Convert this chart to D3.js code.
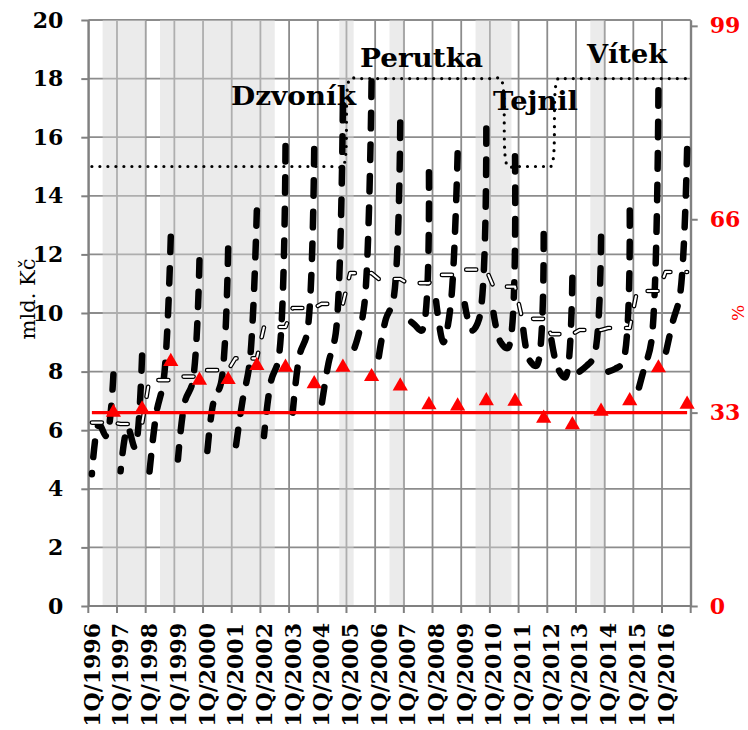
<!DOCTYPE html>
<html><head><meta charset="utf-8">
<script src="https://cdn.jsdelivr.net/npm/d3@7"></script>
<style>body{margin:0;background:#fff}svg{display:block}</style>
</head><body>
<svg id="c" width="748" height="730"></svg>
<script>
// ---------------- DATA ----------------
const years = [1996,1997,1998,1999,2000,2001,2002,2003,2004,2005,2006,2007,2008,2009,2010,2011,2012,2013,2014,2015,2016];
const quarterNames = ["1Q","2Q","3Q","4Q"];
const categories = years.flatMap(yr => quarterNames.map(q => q + "/" + yr));

// quarterly values, mld. Kč (left axis)
const quarterlyValues = [
  4.5, 6.2, 5.8, 7.9,
  4.6, 6.1, 5.4, 8.55,
  4.5, 6.6, 7.7, 12.6,
  5.0, 7.0, 7.6, 11.8,
  5.0, 7.0, 7.6, 12.2,
  5.3, 7.0, 8.3, 13.5,
  5.8, 7.7, 8.4, 15.7,
  6.6, 8.6, 9.3, 15.6,
  6.8, 8.3, 9.3, 17.1,
  8.4, 9.1, 10.3, 17.9,
  8.5, 9.8, 10.4, 16.5,
  9.8, 9.6, 9.4, 14.8,
  10.4, 9.0, 10.2, 15.45,
  10.3, 9.4, 9.8, 16.3,
  10.0, 9.0, 8.8, 15.35,
  9.8, 8.4, 8.2, 12.7,
  9.2, 8.1, 7.8, 11.2,
  8.0, 8.2, 8.5, 12.6,
  8.0, 8.1, 8.3, 13.5,
  7.2, 8.1, 9.0, 17.6,
  8.6, 9.7, 10.6, 15.6
];
// annual average per year, mld. Kč (left axis), shown for each quarter of the year
const annualAverage = [6.26,6.21,7.71,7.83,8.05,8.45,9.52,10.17,10.31,11.36,11.16,11.02,11.3,11.48,10.9,9.8,9.28,9.42,9.49,10.75,11.4];
// share of the 4th quarter in the year, % (right axis)
const q4Share = [33.4,34.0,42.1,38.9,39.0,41.4,41.1,38.3,41.1,39.5,37.9,34.7,34.5,35.4,35.3,32.4,31.3,33.6,35.4,41.0,34.8];
const thresholdShare = 33;
// directors and their target levels (left axis)
const directors = [
  {name:"Dzvoník", target:15, from:"1Q/1996", to:"4Q/2004"},
  {name:"Perutka", target:18, from:"1Q/2005", to:"2Q/2010"},
  {name:"Tejnil",  target:15, from:"3Q/2010", to:"1Q/2012"},
  {name:"Vítek",   target:18, from:"2Q/2012", to:"4Q/2016"}
];
// shaded periods
const shadedPeriods = [
  ["3Q/1996","4Q/1997"],
  ["3Q/1998","2Q/2002"],
  ["4Q/2004","1Q/2005"],
  ["3Q/2006","4Q/2006"],
  ["3Q/2009","3Q/2010"],
  ["3Q/2013","4Q/2013"]
];
const leftTicks = [0,2,4,6,8,10,12,14,16,18,20];
const rightTicks = [0,33,66,99];
const leftTitle = "mld. Kč";
const rightTitle = "%";

// ---------------- LAYOUT ----------------
const plot = {left:88.3, right:690.7, top:20, bottom:606};
const labelPos = {"Dzvoník":[231,105,125], "Perutka":[360,66.5,123], "Tejnil":[493,110,85], "Vítek":[587,63,80]};
const serif = "'DejaVu Serif', 'Liberation Serif', serif";
const gridColor = "#8c8c8c";

const svg = d3.select("#c");
const x = d3.scaleBand().domain(categories).range([plot.left, plot.right]).padding(0);
const cx = c => x(c) + x.bandwidth()/2;
const y = d3.scaleLinear().domain([0,20]).range([plot.bottom, plot.top]);
const y2 = d3.scaleLinear().domain([0,100]).range([plot.bottom, plot.top]);

// gridlines
const yearStarts = categories.filter(c => c.startsWith("1Q/"));
const g = svg.append("g");
g.selectAll("line.h").data(leftTicks).join("line")
  .attr("x1", plot.left).attr("x2", plot.right)
  .attr("y1", d => y(d)).attr("y2", d => y(d))
  .attr("stroke", gridColor).attr("stroke-width", 1.8);
g.selectAll("line.v").data(yearStarts.map(c => x(c)).concat([plot.right])).join("line")
  .attr("x1", d => d).attr("x2", d => d)
  .attr("y1", plot.top).attr("y2", plot.bottom)
  .attr("stroke", gridColor).attr("stroke-width", 1.8);

// shaded bands
svg.append("g").selectAll("rect").data(shadedPeriods).join("rect")
  .attr("x", d => x(d[0]))
  .attr("width", d => x(d[1]) + x.bandwidth() - x(d[0]))
  .attr("y", plot.top).attr("height", plot.bottom - plot.top)
  .attr("fill", "#d4d4d4").attr("fill-opacity", 0.47);

// axes
const axStyle = sel => {
  sel.select(".domain").attr("stroke", "#808080").attr("stroke-width", 2);
  sel.selectAll(".tick line").attr("stroke", "#808080").attr("stroke-width", 2);
  sel.selectAll("text").attr("font-family", serif).attr("font-weight", "bold").attr("font-size", 22);
};
svg.append("g").attr("transform", `translate(${plot.left},0)`)
  .call(d3.axisLeft(y).tickValues(leftTicks).tickSize(7).tickSizeOuter(0).tickPadding(18))
  .call(axStyle)
  .selectAll("text").attr("fill", "#000");
svg.append("g").attr("transform", `translate(${plot.right},0)`)
  .call(d3.axisRight(y2).tickValues(rightTicks).tickSize(7).tickSizeOuter(0).tickPadding(12))
  .call(axStyle)
  .selectAll("text").attr("fill", "#ff0000");

// bottom axis
svg.append("line").attr("x1", plot.left).attr("x2", plot.right)
  .attr("y1", plot.bottom).attr("y2", plot.bottom)
  .attr("stroke", "#808080").attr("stroke-width", 2);
svg.append("g").selectAll("line").data(yearStarts.map(c => x(c)).concat([plot.right])).join("line")
  .attr("x1", d => d).attr("x2", d => d)
  .attr("y1", plot.bottom).attr("y2", plot.bottom + 7)
  .attr("stroke", "#808080").attr("stroke-width", 2);
svg.append("g").selectAll("text").data(yearStarts).join("text")
  .attr("transform", d => `translate(${cx(d)},${plot.bottom + 17}) rotate(-90)`)
  .attr("text-anchor", "end").attr("dy", "0.36em")
  .attr("font-family", serif).attr("font-weight", "bold").attr("font-size", 22)
  .attr("fill", "#000")
  .text(d => d);

// axis titles
svg.append("text").attr("transform", "translate(28,299) rotate(-90)")
  .attr("text-anchor", "middle").attr("dy", "0.35em")
  .attr("font-family", serif).attr("font-size", 21).attr("fill", "#000")
  .text(leftTitle);
svg.append("text").attr("transform", "translate(738,313) rotate(-90)")
  .attr("text-anchor", "middle").attr("dy", "0.35em")
  .attr("font-family", serif).attr("font-size", 17).attr("fill", "#ff0000")
  .text(rightTitle);

// director target dotted line
const targetSeries = categories.map((c, i) => {
  const d = directors.find(dd => categories.indexOf(dd.from) <= i && i <= categories.indexOf(dd.to));
  return {c, v: d.target};
});
svg.append("path").datum(targetSeries)
  .attr("d", d3.line().x(d => cx(d.c)).y(d => y(d.v)).curve(d3.curveCatmullRom.alpha(0.5)))
  .attr("fill", "none").attr("stroke", "#000").attr("stroke-width", 3.2)
  .attr("stroke-linecap", "round").attr("stroke-dasharray", "0,8");

// quarterly black dashed line, one stroke per year (dash pattern anchored at the 4Q peak)
const dashOn = 15.5, dashOff = 16;
const qByYear = years.map((yr, k) => quarterNames.map((q, j) => ({c: q + "/" + yr, v: quarterlyValues[k*4 + j]})));
const qLine = d3.line().x(d => cx(d.c)).y(d => y(d.v)).curve(d3.curveCatmullRom.alpha(0.5));
svg.append("g").selectAll("path").data(qByYear).join("path")
  .attr("d", qLine)
  .attr("fill", "none").attr("stroke", "#000").attr("stroke-width", 6.5)
  .attr("stroke-linecap", "round").attr("stroke-linejoin", "round")
  .attr("stroke-dasharray", `${dashOn},${dashOff}`)
  .attr("stroke-dashoffset", function() {
    const L = this.getTotalLength();
    const p = dashOn + dashOff;
    return ((dashOn - L) % p + p) % p;
  });

// annual average (white with black outline)
const aData = categories.map((c, i) => ({c, v: annualAverage[Math.floor(i / 4)]}));
const aLine = d3.line().x(d => cx(d.c)).y(d => y(d.v));
svg.append("path").datum(aData).attr("d", aLine)
  .attr("fill", "none").attr("stroke", "#000").attr("stroke-width", 4.6)
  .attr("stroke-linecap", "round").attr("stroke-linejoin", "round")
  .attr("stroke-dasharray", "10,16");
svg.append("path").datum(aData).attr("d", aLine)
  .attr("fill", "none").attr("stroke", "#fff").attr("stroke-width", 2.1)
  .attr("stroke-linecap", "round").attr("stroke-linejoin", "round")
  .attr("stroke-dasharray", "10,16");

// 33 % threshold line
svg.append("path").datum(categories)
  .attr("d", d3.line().x(c => cx(c)).y(() => y2(thresholdShare)))
  .attr("fill", "none").attr("stroke", "#ff0000").attr("stroke-width", 3.2);

// Q4 share triangles
const tri = d3.symbol().type(d3.symbolTriangle).size(100);
svg.append("g").selectAll("path").data(years).join("path")
  .attr("d", tri)
  .attr("transform", (yr, i) => `translate(${cx("4Q/" + yr)},${y2(q4Share[i]) + 2.2})`)
  .attr("fill", "#ff0000");

// director labels
svg.append("g").selectAll("text").data(directors).join("text")
  .attr("x", d => labelPos[d.name][0]).attr("y", d => labelPos[d.name][1])
  .attr("textLength", d => labelPos[d.name][2]).attr("lengthAdjust", "spacingAndGlyphs")
  .attr("font-family", serif).attr("font-weight", "bold").attr("font-size", 26)
  .attr("fill", "#000")
  .text(d => d.name);
</script>
</body></html>
